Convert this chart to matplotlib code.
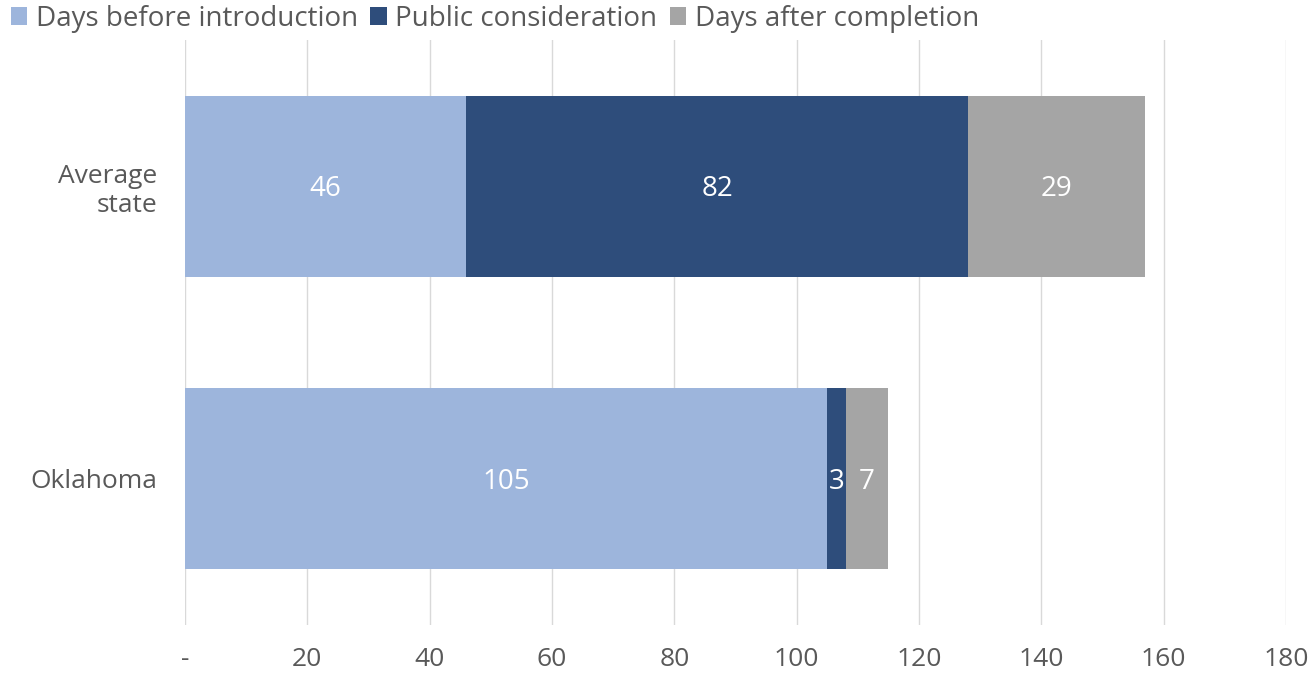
import numpy as np
import matplotlib.pyplot as plt

plt.rcParams['font.family'] = ['Open Sans', 'DejaVu Sans']

states = ["Average\nstate", "Oklahoma"]
series = ["Days before introduction", "Public consideration", "Days after completion"]
before = [46, 105]
public = [82, 3]
after = [29, 7]
colors = ["#9db5dc", "#2e4d7b", "#a5a5a5"]
xticks = [0, 20, 40, 60, 80, 100, 120, 140, 160, 180]
xticklabels = ["-"] + [str(v) for v in xticks[1:]]

fig = plt.figure(figsize=(13.16, 6.82), dpi=100)
ax = fig.add_axes([185/1316, 1-625/682, 1101/1316, 585/682])

y = np.arange(len(states))
left = np.zeros(len(states))
for vals, name, c in zip([before, public, after], series, colors):
    bars = ax.barh(y, vals, left=left, height=0.62, color=c, label=name, zorder=2)
    for b, v in zip(bars, vals):
        ax.text(b.get_x() + b.get_width()/2, b.get_y() + b.get_height()/2 + 0.01, str(v),
                ha='center', va='center', color='white', fontsize=20, zorder=3)
    left += np.array(vals)

ax.set_xlim(0, 180)
ax.set_ylim(1.5, -0.5)
ax.set_xticks(xticks)
ax.set_xticklabels(xticklabels)
ax.set_yticks(y)
ax.set_yticklabels(states)
ax.grid(axis='x', color='#d9d9d9', lw=1, zorder=0)
for s in ax.spines.values():
    s.set_visible(False)
ax.tick_params(axis='both', length=0, labelsize=19, labelcolor='#595959')
ax.tick_params(axis='x', pad=16)
ax.tick_params(axis='y', pad=20)

ax.legend(loc='upper left', bbox_to_anchor=(0.006, 0.997), bbox_transform=fig.transFigure,
          ncol=3, frameon=False, fontsize=20, labelcolor='#595959', handlelength=0.6, handleheight=0.6,
          handletextpad=0.3, columnspacing=0.45, borderaxespad=0, borderpad=0.1)

fig.savefig("out.png", dpi=100)
